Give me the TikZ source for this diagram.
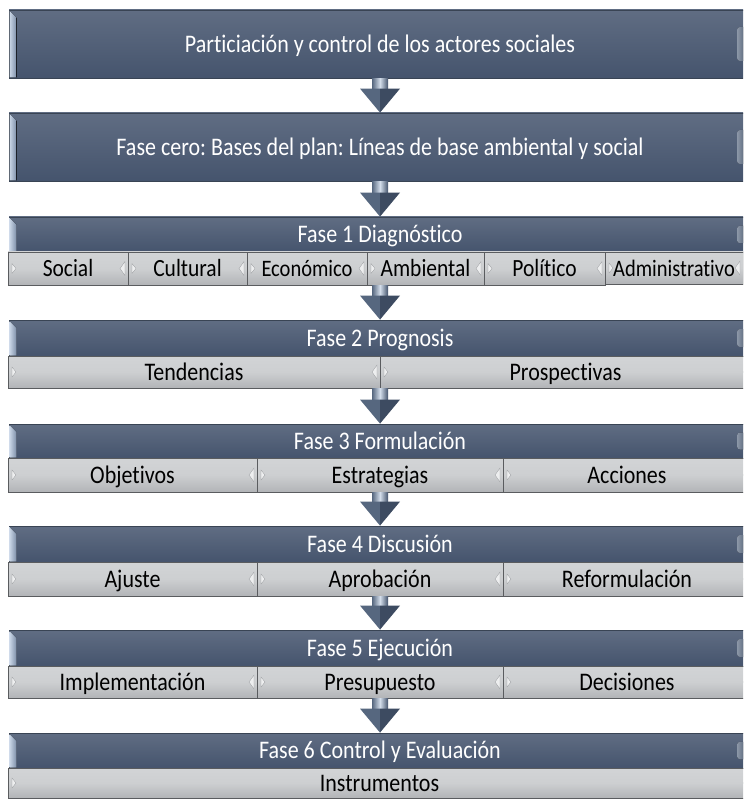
\documentclass[tikz,border=0pt]{standalone}
\usepackage{graphicx}
\usepackage{fontspec}
\setmainfont{Carlito}[Ligatures=NoCommon]
\frenchspacing
\usetikzlibrary{calc}
\definecolor{hdtop}{HTML}{606D83}
\definecolor{hdbot}{HTML}{45546D}
\definecolor{hdline}{HTML}{394454}
\definecolor{bevL}{HTML}{CAD6E7}
\definecolor{bevR}{HTML}{7C8EA8}
\definecolor{rbevL}{HTML}{B4C2D6}
\definecolor{rbevR}{HTML}{6A7B94}
\definecolor{subtop}{HTML}{D2D4D6}
\definecolor{submid}{HTML}{CDCFD1}
\definecolor{subbot}{HTML}{B2B4B7}
\definecolor{subline}{HTML}{5A5C5F}
\definecolor{triL}{HTML}{EDEEEF}
\definecolor{triE}{HTML}{9A9C9F}
\definecolor{arrL}{HTML}{56677F}
\definecolor{arrM}{HTML}{D3DDEA}
\definecolor{arrR}{HTML}{44546C}
\definecolor{headL}{HTML}{56677F}
\definecolor{headR}{HTML}{3D4B61}
\tikzset{
  hdr/.style={draw=hdline, line width=0.8pt, top color=hdtop, bottom color=hdbot,
    text=white, inner sep=0pt, font=\fontsize{22}{24}\selectfont,
    text height=16.3pt, text depth=0pt},
  subcell/.style={draw=subline, line width=0.8pt, top color=subtop, bottom color=subbot,
    middle color=submid, text=black, inner sep=0pt, font=\fontsize{22}{24}\selectfont,
    text height=16.3pt, text depth=0pt},
  tri/.style={fill=triL, draw=triE, line width=0.3pt},
}
\newcommand\hdrbox[6]{%
  \pgfmathsetmacro\bxCx{(#2+#4)/2}%
  \pgfmathsetmacro\bxCy{(#3+#5)/2}%
  \pgfmathsetmacro\bxW{#4-#2}%
  \pgfmathsetmacro\bxH{#5-#3}%
  \pgfmathsetmacro\bxQ{0.25*(#5-#3)}%
  \node[hdr, minimum width=\bxW pt, minimum height=\bxH pt] (#1) at (\bxCx,\bxCy) {\scalebox{1}[1.15]{#6}};
  \fill[left color=bevL, right color=bevR] (#2+0.5,#3+1) -- (#2+7.5,#3+8) -- (#2+7.5,#5-0.5) -- (#2+0.5,#5-0.5) -- cycle;
  \fill[left color=rbevL, right color=rbevR, rounded corners=3pt, opacity=0.75] (737,#3+\bxQ) rectangle (746,#5-\bxQ);
}
\newcommand\subcellbox[6]{%
  \pgfmathsetmacro\bxCx{(#2+#4)/2}%
  \pgfmathsetmacro\bxCy{(#3+#5)/2}%
  \pgfmathsetmacro\bxW{#4-#2}%
  \pgfmathsetmacro\bxH{#5-#3}%
  \node[subcell, minimum width=\bxW pt, minimum height=\bxH pt] (#1) at (\bxCx,\bxCy) {\scalebox{1}[1.15]{#6}};
  \fill[tri] (#2+4,\bxCy-5) -- (#2+8,\bxCy) -- (#2+4,\bxCy+5) -- cycle;
  \fill[tri] (#4-3,\bxCy-7) -- (#4-8,\bxCy) -- (#4-3,\bxCy+7) -- cycle;
}
\newcommand\flowarrow[3]{%
  \coordinate (#3t) at (#1.south -| #2.north);
  \coordinate (#3b) at (#2.north);
  \fill[left color=arrL, right color=arrR, middle color=arrM] ($(#3t)+(-8pt,0pt)$) rectangle ($(#3b)+(8pt,24pt)$);
  \fill[headL] ($(#3b)+(-20pt,24pt)$) -- ($(#3b)+(0pt,24pt)$) -- (#3b) -- cycle;
  \fill[headR] ($(#3b)+(0pt,24pt)$) -- ($(#3b)+(20pt,24pt)$) -- (#3b) -- cycle;
}
\begin{document}
\begin{tikzpicture}[x=1pt,y=-1pt]
\useasboundingbox (0,0) rectangle (743,799);
\clip (0,0) rectangle (743,799);
\fill[white] (0,0) rectangle (743,799);
% top boxes
\hdrbox{b1}{9}{10}{751}{78}{Particiación y control de los actores sociales}
\hdrbox{b2}{9}{113}{751}{181}{Fase cero: Bases del plan: Líneas de base ambiental y social}
% phase headers
\hdrbox{f1}{9}{217}{751}{252}{Fase 1 Diagnóstico}
\hdrbox{f2}{9}{320}{751}{356}{Fase 2 Prognosis}
\hdrbox{f3}{9}{424}{751}{458}{Fase 3 Formulación}
\hdrbox{f4}{9}{526}{751}{562}{Fase 4 Discusión}
\hdrbox{f5}{9}{630}{751}{666}{Fase 5 Ejecución}
\hdrbox{f6}{9}{733}{751}{768}{Fase 6 Control y Evaluación}
% phase 1 cells
\subcellbox{s11}{8}{252}{128}{285}{\fontsize{21.5}{24}\selectfont Social}
\subcellbox{s12}{128}{252}{247}{285}{\fontsize{21.5}{24}\selectfont Cultural}
\subcellbox{s13}{247}{252}{367}{285}{\fontsize{20.5}{24}\selectfont Económico}
\subcellbox{s14}{367}{252}{484}{285}{\fontsize{21.5}{24}\selectfont Ambiental}
\subcellbox{s15}{484}{252}{605}{285}{\fontsize{21.5}{24}\selectfont Político}
\subcellbox{s16}{605}{252}{743}{284}{\fontsize{20.5}{24}\selectfont Administrativo}
% phase 2 cells
\subcellbox{s21}{8}{356}{380}{388}{Tendencias}
\subcellbox{s22}{380}{356}{751}{388}{Prospectivas}
% phase 3 cells
\subcellbox{s31}{8}{458}{257}{492}{Objetivos}
\subcellbox{s32}{257}{458}{503}{492}{Estrategias}
\subcellbox{s33}{503}{458}{751}{492}{Acciones}
% phase 4 cells
\subcellbox{s41}{8}{562}{257}{596}{Ajuste}
\subcellbox{s42}{257}{562}{503}{596}{Aprobación}
\subcellbox{s43}{503}{562}{751}{596}{Reformulación}
% phase 5 cells
\subcellbox{s51}{8}{666}{257}{698}{Implementación}
\subcellbox{s52}{257}{666}{503}{698}{Presupuesto}
\subcellbox{s53}{503}{666}{751}{698}{Decisiones}
% phase 6 cell
\subcellbox{s61}{8}{768}{751}{798}{Instrumentos}
% arrows
\flowarrow{b1}{b2}{a1}
\flowarrow{b2}{f1}{a2}
\flowarrow{s14}{f2}{a3}
\flowarrow{s22}{f3}{a4}
\flowarrow{s32}{f4}{a5}
\flowarrow{s42}{f5}{a6}
\flowarrow{s52}{f6}{a7}
\end{tikzpicture}
\end{document}
